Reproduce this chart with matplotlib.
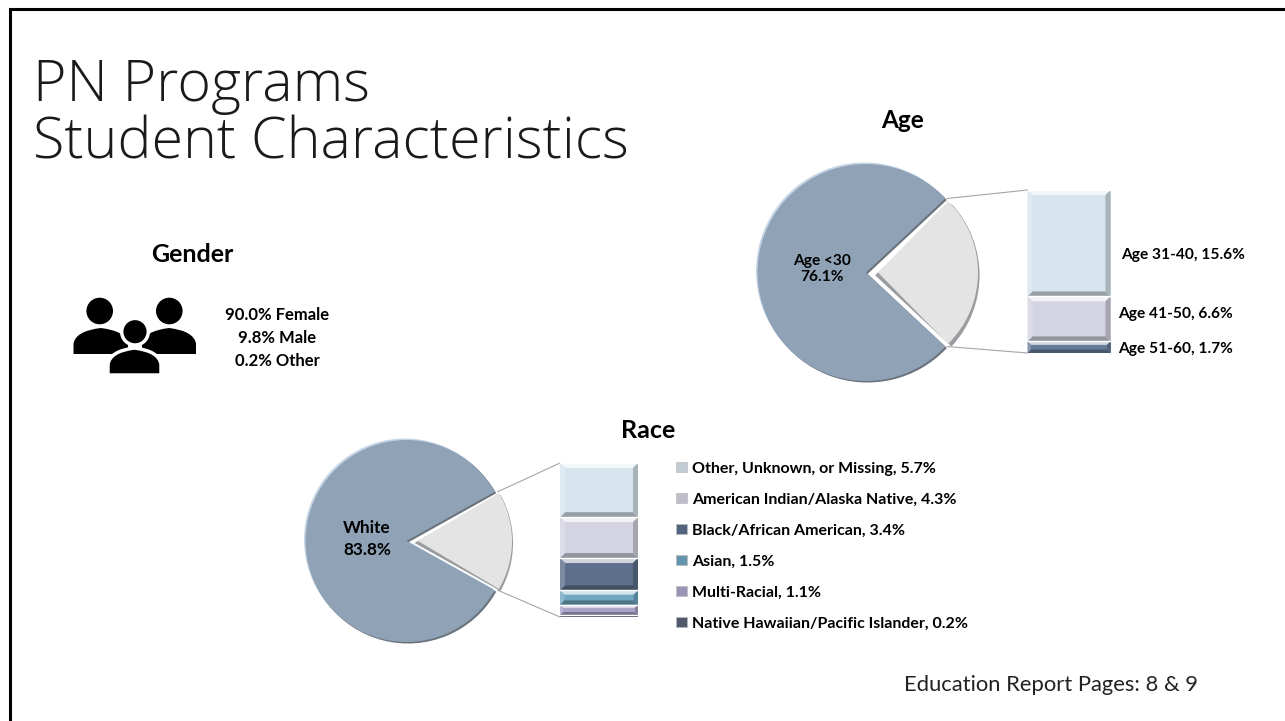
import numpy as np
import matplotlib
matplotlib.use("Agg")
import matplotlib.pyplot as plt
from matplotlib.patches import Circle, PathPatch, Polygon, Rectangle
from matplotlib.path import Path

plt.rcParams["font.family"] = ["Lato", "DejaVu Sans"]

W, H = 1285, 721

# ---------------------------------------------------------------------------
# Data
# ---------------------------------------------------------------------------
age_main = 76.1
age_labels = ["Age 31-40, 15.6%", "Age 41-50, 6.6%", "Age 51-60, 1.7%"]
age_values = [15.6, 6.6, 1.7]
age_colors = ["#D6E4ED", "#D3D3E2", "#667C9A"]

race_main = 83.8
race_labels = ["Other, Unknown, or Missing, 5.7%",
               "American Indian/Alaska Native, 4.3%",
               "Black/African American, 3.4%",
               "Asian, 1.5%",
               "Multi-Racial, 1.1%",
               "Native Hawaiian/Pacific Islander, 0.2%"]
race_values = [5.7, 4.3, 3.4, 1.5, 1.1, 0.2]
race_colors = ["#D6E4ED", "#D3D3E2", "#5E6F8C", "#6FA6C0", "#A9A5CB", "#5A6478"]

gender_lines = ["90.0% Female", "9.8% Male", "0.2% Other"]

MAIN_COLOR = "#8FA2B6"
REST_COLOR = "#E4E4E4"
LIGHT_EDGE = "#C6D6E6"
DARK_EDGE = "#6A727B"


def py(y):
    """Pixel row in the reference -> data y (axis points up)."""
    return H - y


def shade(color, f):
    c = np.array(matplotlib.colors.to_rgb(color))
    if f > 0:
        return tuple(c + (1 - c) * f)
    return tuple(c * (1 + f))


def bevel_pie(ax, main, cx, cy, r, tip_x, r2, spread):
    """Big slice plus the rest slice, with a fake 3D rim."""
    rest = 100 - main
    half = rest / 100 * 180
    # rim copies first, main face on top
    for dx, dy, col in [(-1.5, 1.5, LIGHT_EDGE), (1.5, -1.5, DARK_EDGE), (0, 0, MAIN_COLOR)]:
        w, _ = ax.pie([main, rest], colors=[col, "none"], radius=r,
                      center=(cx + dx, py(cy) + dy), startangle=half, frame=True)
        w[1].set_visible(False)
        w[0].set_zorder(2)
    # grey bevel under the rest slice, flush on its upper edge
    h = np.radians(half)
    sx, sy = -4 * np.cos(h), -4 * np.sin(h)
    w, _ = ax.pie([rest, main], colors=["#9A9C9F", "none"], radius=r2 + 4.5,
                  center=(tip_x + sx, py(cy) + sy), startangle=-half, frame=True)
    w[1].set_visible(False)
    w[0].set_zorder(3)
    # spread (degrees per side) widens the face so it reaches the cut of the big slice
    face = rest + 2 * spread / 3.6
    w, _ = ax.pie([face, 100 - face], colors=[REST_COLOR, "none"], radius=r2,
                  center=(tip_x, py(cy)), startangle=-half - spread, frame=True)
    w[1].set_visible(False)
    w[0].set_zorder(4)
    return cx + r * np.cos(h), r * np.sin(h)


def bevel_bar(ax, x0, x1, top, bottom, values, colors):
    """Stacked column in the pie's rest colours, each cell with bevelled edges."""
    scale = (bottom - top) / sum(values)
    y = py(bottom)
    for v, c in zip(reversed(values), reversed(colors)):
        h = v * scale
        ax.bar(x0, h, width=x1 - x0, bottom=y, align="edge", color=c, zorder=3,
               edgecolor="none")
        b = min(5, h * 0.3)
        xa, xb, ya, yb = x0, x1, y, y + h
        ax.add_patch(Polygon([(xa, yb), (xb, yb), (xb - b, yb - b), (xa + b, yb - b)],
                             color=shade(c, 0.7), lw=0, zorder=4))
        ax.add_patch(Polygon([(xa, ya), (xb, ya), (xb - b, ya + b), (xa + b, ya + b)],
                             color=shade(c, -0.3), lw=0, zorder=4))
        ax.add_patch(Polygon([(xb, ya), (xb, yb), (xb - b, yb - b), (xb - b, ya + b)],
                             color=shade(c, -0.22), lw=0, zorder=4))
        ax.add_patch(Polygon([(xa, ya), (xa, yb), (xa + b, yb - b), (xa + b, ya + b)],
                             color=shade(c, 0.2), lw=0, zorder=4))
        ax.plot([xa, xb], [yb, yb], color="white", lw=1, zorder=5)
        y += h


def person(ax, head_x, head_y, body_l, body_r, body_t, body_b, outline=False):
    ec = "white" if outline else "none"
    lw = 2.5 if outline else 0
    t, b = py(body_t), py(body_b)
    w = body_r - body_l
    verts = [(body_l, b), (body_l, b + (t - b) * 0.4),
             (body_l + w * 0.04, t - 3), (body_l + w * 0.5, t),
             (body_r - w * 0.04, t - 3), (body_r, b + (t - b) * 0.4),
             (body_r, b), (body_l, b)]
    codes = [Path.MOVETO, Path.LINETO, Path.CURVE3, Path.CURVE3, Path.CURVE3,
             Path.CURVE3, Path.LINETO, Path.CLOSEPOLY]
    ax.add_patch(PathPatch(Path(verts, codes), fc="black", ec=ec, lw=lw, zorder=6))
    ax.add_patch(Circle((head_x, py(head_y)), 13.3, fc="black", ec=ec, lw=lw, zorder=6))


# ---------------------------------------------------------------------------
# Figure
# ---------------------------------------------------------------------------
fig = plt.figure(figsize=(W / 100, H / 100), dpi=100, facecolor="white")
ax = fig.add_axes([0, 0, 1, 1])

# Age
ex, ey = bevel_pie(ax, age_main, 866, 272.5, 108.5, 878, 100, 2.5)
bevel_bar(ax, 1027.5, 1110.5, 190, 353, age_values, age_colors)
ax.plot([ex + 2, 1027.5], [py(272.5) + ey, py(190)], color="#A6A6A6", lw=0.8, zorder=1)
ax.plot([ex + 2, 1027.5], [py(272.5) - ey, py(353)], color="#A6A6A6", lw=0.8, zorder=1)

# Race
ex, ey = bevel_pie(ax, race_main, 406.5, 541, 101, 418, 94, 1.5)
bevel_bar(ax, 560, 638, 463, 617, race_values, race_colors)
ax.plot([ex + 3, 560], [py(541) + ey, py(463)], color="#A6A6A6", lw=0.8, zorder=1)
ax.plot([ex + 3, 560], [py(541) - ey, py(617)], color="#A6A6A6", lw=0.8, zorder=1)

# Gender icon
person(ax, 99.7, 311, 73.5, 128, 328, 354)
person(ax, 169.3, 311, 142, 196, 328, 354)
person(ax, 135, 331.7, 108, 161, 348, 375, outline=True)

# Title block
for s, y in zip(["PN Programs", "Student Characteristics"], [86, 144]):
    ax.text(33, py(y), s, family=["Open Sans", "DejaVu Sans"], fontsize=41.3, fontweight="light",
            color="#1A1A1A", ha="left", va="center")

# Headings
ax.text(903, py(121), "Age", fontsize=17.5, fontweight="bold", ha="center", va="center")
ax.text(648, py(431), "Race", fontsize=18, fontweight="bold", ha="center", va="center")
ax.text(192, py(255), "Gender", fontsize=18, fontweight="bold", ha="center", va="center")

for s, y in zip(gender_lines, [315, 338, 361]):
    ax.text(277, py(y), s, fontsize=12, fontweight="bold", ha="center", va="center", zorder=7)

ax.text(822, py(269), f"Age <30\n{age_main}%", fontsize=11.2, fontweight="bold",
        ha="center", va="center", linespacing=1.25, zorder=7)
ax.text(367, py(539), f"White\n{race_main}%", fontsize=12.3, fontweight="bold",
        ha="center", va="center", linespacing=1.4, zorder=7)

for s, x, y in zip(age_labels, [1121, 1118, 1118], [255, 314, 349]):
    ax.text(x, py(y), s, fontsize=11.2, fontweight="bold", ha="left", va="center")

for s, c, y in zip(race_labels, race_colors, [467, 498, 529, 560, 591, 622]):
    ax.add_patch(Rectangle((676, py(y) - 5), 11, 10, fc=shade(c, -0.1), ec="#BBBBBB", lw=0.5, zorder=3))
    ax.text(692, py(y + 1.5), s, fontsize=11.55, fontweight="bold", ha="left", va="center")

ax.text(904, py(685), "Education Report Pages: 8 & 9", fontsize=15.8, color="#222222",
        ha="left", va="center")

# Slide frame: only the top and left edges show
ax.plot([9.5, 9.5, W], [0, py(8.5), py(8.5)], color="black", lw=2.2, zorder=8,
        solid_joinstyle="miter")

ax.set_xlim(0, W)
ax.set_ylim(0, H)
ax.axis("off")

fig.savefig("out.png", dpi=100, facecolor="white")
